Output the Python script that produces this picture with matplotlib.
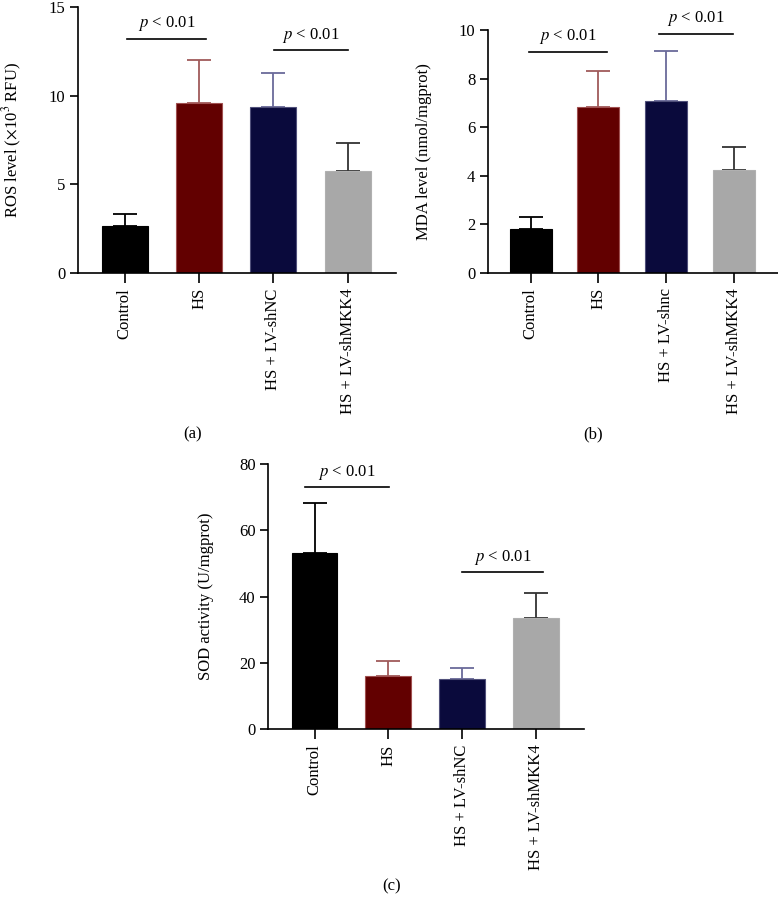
import matplotlib.pyplot as plt
import numpy as np

plt.rcParams['font.family'] = ['Liberation Serif', 'DejaVu Serif']
plt.rcParams['mathtext.fontset'] = 'stix'
plt.rcParams['font.size'] = 12

# data
groups_a = ["Control", "HS", "HS + LV-shNC", "HS + LV-shMKK4"]
groups_b = ["Control", "HS", "HS + LV-shnc", "HS + LV-shMKK4"]
groups_c = ["Control", "HS", "HS + LV-shNC", "HS + LV-shMKK4"]

ros_mean = [2.65, 9.6, 9.36, 5.77]
ros_err = [0.68, 2.4, 1.92, 1.58]
mda_mean = [1.81, 6.81, 7.06, 4.23]
mda_err = [0.47, 1.51, 2.06, 0.95]
sod_mean = [53.1, 16.0, 15.3, 33.6]
sod_err = [15.2, 4.5, 3.1, 7.4]

# significance brackets: (x start, x end, y level)
sig_a = [(0.03, 1.09, 13.2), (2.01, 3.0, 12.55)]
sig_b = [(-0.03, 1.13, 9.09), (1.9, 2.98, 9.85)]
sig_c = [(-0.13, 1.01, 73.0), (2.0, 3.1, 47.3)]

bar_colors = ["#000000", "#620000", "#0a0a3c", "#a8a8a8"]
edge_colors = ["#000000", "#a05050", "#50507a", "#b0b0b0"]
err_colors = ["#000000", "#a05a5a", "#6a6a9a", "#333333"]

fig = plt.figure(figsize=(7.78, 8.97), dpi=100)


def draw_panel(rect, groups, mean, err, ymax, yticks, ylabel, sigs, label, label_xy, ylabel_x):
    ax = fig.add_axes(rect)
    x = np.arange(len(groups))
    ax.bar(x, mean, width=0.62, color=bar_colors, edgecolor=edge_colors, linewidth=0.8, zorder=2)
    for i in range(len(groups)):
        ax.errorbar(x[i], mean[i], yerr=[[0], [err[i]]], fmt='none', ecolor=err_colors[i],
                    elinewidth=1.3, capsize=8.5, capthick=1.3, zorder=1)
    for x0, x1, y in sigs:
        ax.plot([x0, x1], [y, y], color="black", lw=1.2, clip_on=False)
        ax.annotate(r"$p$ < 0.01", xy=((x0 + x1) / 2, y), xytext=(0, 4),
                    textcoords="offset points", ha="center", va="bottom", fontsize=12)
    ax.set_xlim(-0.63, 3.65)
    ax.set_ylim(0, ymax)
    ax.set_yticks(yticks)
    ax.set_xticks(x)
    ax.set_xticklabels(groups, rotation=90, va="top", ha="center")
    ax.spines['top'].set_visible(False)
    ax.spines['right'].set_visible(False)
    ax.spines['left'].set_linewidth(1.2)
    ax.spines['bottom'].set_linewidth(1.2)
    ax.tick_params(axis='y', length=6, width=1.2, pad=3)
    ax.tick_params(axis='x', length=7, width=1.2, pad=4)
    ax.set_ylabel(ylabel, fontsize=12)
    ax.yaxis.set_label_coords(ylabel_x, 0.5)
    fig.text(label_xy[0], label_xy[1], label, ha="center", va="center", fontsize=12)
    return ax


draw_panel([0.1003, 0.6957, 0.4087, 0.2965], groups_a, ros_mean, ros_err, 15, [0, 5, 10, 15],
           r"ROS level ($\times$10$^3$ RFU)", sig_a, "(a)", (193 / 778, 1 - 434 / 897), -0.17)
draw_panel([0.6272, 0.696, 0.3728, 0.2706], groups_b, mda_mean, mda_err, 10, [0, 2, 4, 6, 8, 10],
           "MDA level (nmol/mgprot)", sig_b, "(b)", (593 / 778, 1 - 434 / 897), -0.193)
draw_panel([0.3445, 0.187, 0.4061, 0.2957], groups_c, sod_mean, sod_err, 80, [0, 20, 40, 60, 80],
           "SOD activity (U/mgprot)", sig_c, "(c)", (392 / 778, 1 - 886 / 897), -0.171)

fig.savefig("out.png", dpi=100)
